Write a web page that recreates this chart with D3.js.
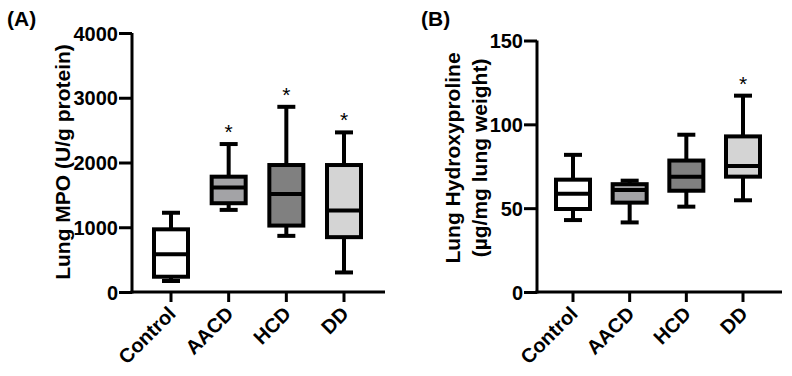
<!DOCTYPE html>
<html>
<head>
<meta charset="utf-8">
<script src="https://cdn.jsdelivr.net/npm/d3@7"></script>
<style>
  body { margin: 0; background: #fff; }
  svg text { font-family: "Liberation Sans", Arial, sans-serif; font-weight: bold; fill: #000; }
</style>
</head>
<body>
<svg id="chart" width="792" height="376"></svg>
<script>
// groups shared by both panels
let groups = ["Control", "AACD", "HCD", "DD"];
let fills = ["#ffffff", "#a3a3a6", "#808080", "#d4d4d4"];

// box stats
let mpoMin    = [170, 1268, 867, 302];
let mpoQ1     = [236, 1371, 1026, 847];
let mpoMedian = [582, 1612, 1515, 1257];
let mpoQ3     = [968, 1781, 1961, 1961];
let mpoMax    = [1224, 2285, 2860, 2465];
let mpoStar   = [false, true, true, true];
let mpoTicks  = [0, 1000, 2000, 3000, 4000];

let hypMin    = [42.9, 41.5, 50.9, 54.7];
let hypQ1     = [49.5, 53.3, 60.4, 68.8];
let hypMedian = [58.6, 60.9, 68.8, 75.2];
let hypQ3     = [67, 64.3, 78.4, 92.8];
let hypMax    = [81.8, 66.4, 93.8, 117.1];
let hypStar   = [false, false, false, true];
let hypTicks  = [0, 50, 100, 150];

let svg = d3.select("#chart");

function toRows(mins, q1s, meds, q3s, maxs, stars) {
    return groups.map((g, i) => ({
        group: g, fill: fills[i], min: mins[i], q1: q1s[i], median: meds[i], q3: q3s[i], max: maxs[i], star: stars[i]
    }));
}

function drawPanel(opt) {
    let g = svg.append("g");
    let data = opt.rows;

    let y = d3.scaleLinear().domain(opt.domain).range([292, opt.top]);
    let x = d3.scalePoint().domain(groups).range(opt.xRange);

    let boxW = 34, capW = 18;

    // whiskers + boxes
    let box = g.selectAll(".box").data(data).enter().append("g").attr("class", "box");
    box.append("line")
        .attr("x1", d => x(d.group)).attr("x2", d => x(d.group))
        .attr("y1", d => y(d.min)).attr("y2", d => y(d.max))
        .attr("stroke", "#000").attr("stroke-width", 4);
    box.append("line")
        .attr("x1", d => x(d.group) - capW / 2).attr("x2", d => x(d.group) + capW / 2)
        .attr("y1", d => y(d.max)).attr("y2", d => y(d.max))
        .attr("stroke", "#000").attr("stroke-width", 4);
    box.append("line")
        .attr("x1", d => x(d.group) - capW / 2).attr("x2", d => x(d.group) + capW / 2)
        .attr("y1", d => y(d.min)).attr("y2", d => y(d.min))
        .attr("stroke", "#000").attr("stroke-width", 4);
    box.append("rect")
        .attr("x", d => x(d.group) - boxW / 2)
        .attr("width", boxW)
        .attr("y", d => y(d.q3))
        .attr("height", d => y(d.q1) - y(d.q3))
        .attr("fill", d => d.fill)
        .attr("stroke", "#000").attr("stroke-width", 4);
    box.append("line")
        .attr("x1", d => x(d.group) - boxW / 2).attr("x2", d => x(d.group) + boxW / 2)
        .attr("y1", d => y(d.median)).attr("y2", d => y(d.median))
        .attr("stroke", "#000").attr("stroke-width", 4);

    // significance stars
    g.selectAll(".star").data(data.filter(d => d.star)).enter().append("text")
        .attr("x", d => x(d.group))
        .attr("y", d => y(d.max) - 5)
        .attr("text-anchor", "middle")
        .style("font-weight", "normal")
        .attr("font-size", 21)
        .text("*");

    // y axis
    let yAxis = g.append("g")
        .attr("transform", "translate(" + opt.axisX + ",0)")
        .call(d3.axisLeft(y).tickValues(opt.ticks).tickFormat(d3.format("d"))
            .tickSize(13).tickPadding(1).tickSizeOuter(0));
    yAxis.select(".domain").attr("stroke-width", 3).attr("d", "M0," + (y(opt.domain[0]) + 1.5) + "V" + y(opt.domain[1]));
    yAxis.selectAll(".tick line").attr("stroke-width", 3);
    yAxis.selectAll("text").attr("font-size", 20).attr("dy", "0.36em");

    // x axis
    let xAxis = g.append("g")
        .attr("transform", "translate(0,292)");
    xAxis.append("line")
        .attr("x1", opt.axisX - 1.5).attr("x2", opt.xEnd)
        .attr("stroke", "#000").attr("stroke-width", 3);
    xAxis.selectAll(".xtick").data(groups).enter().append("line")
        .attr("x1", d => x(d)).attr("x2", d => x(d))
        .attr("y1", 0).attr("y2", 10)
        .attr("stroke", "#000").attr("stroke-width", 3);
    xAxis.selectAll(".xlabel").data(groups).enter().append("text")
        .attr("text-anchor", "end")
        .attr("font-size", 20)
        .attr("transform", d => "translate(" + (x(d) + 6) + ",23) rotate(-45)")
        .text(d => d);

    // y label
    let yl = g.append("text")
        .attr("text-anchor", "middle")
        .attr("font-size", 21)
        .attr("transform", "translate(" + opt.labelX + "," + opt.labelY + ") rotate(-90)");
    opt.label.forEach((t, i) => {
        yl.append("tspan").attr("x", 0).attr("dy", i === 0 ? 0 : 27).text(t);
    });

    // panel letter
    g.append("text")
        .attr("x", opt.letterX).attr("y", 26)
        .attr("font-size", 21)
        .text(opt.letter);
}

drawPanel({
    rows: toRows(mpoMin, mpoQ1, mpoMedian, mpoQ3, mpoMax, mpoStar),
    domain: [0, 4000], top: 33, ticks: mpoTicks,
    axisX: 132, xRange: [171, 344], xEnd: 385,
    label: ["Lung MPO (U/g protein)"], labelX: 70, labelY: 162,
    letter: "(A)", letterX: 7
});

drawPanel({
    rows: toRows(hypMin, hypQ1, hypMedian, hypQ3, hypMax, hypStar),
    domain: [0, 150], top: 40.5, ticks: hypTicks,
    axisX: 537, xRange: [573, 743], xEnd: 782,
    label: ["Lung Hydroxyproline", "(\u00b5g/mg lung weight)"], labelX: 460, labelY: 158,
    letter: "(B)", letterX: 421
});
</script>
</body>
</html>
